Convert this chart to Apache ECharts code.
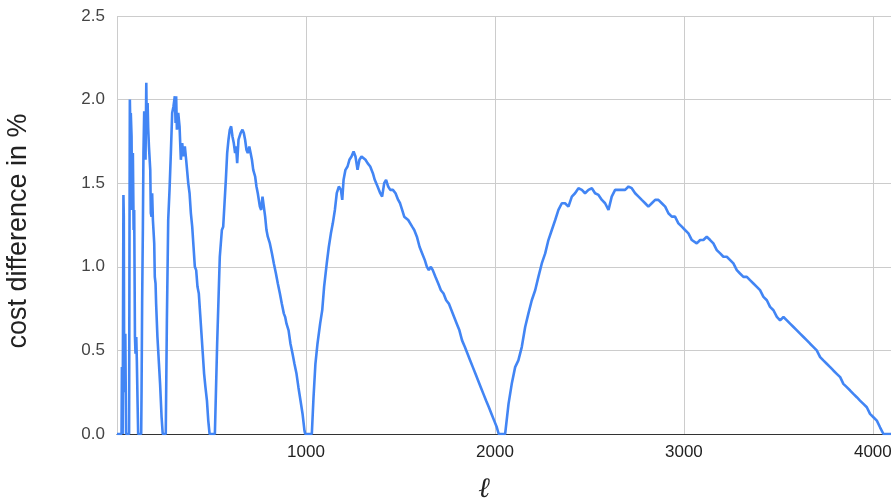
<!DOCTYPE html>
<html>
<head>
<meta charset="utf-8">
<script src="https://cdn.jsdelivr.net/npm/echarts@6/dist/echarts.min.js"></script>
<style>
html,body{margin:0;padding:0;background:#fff;}
#chart{width:891px;height:501px;}
</style>
</head>
<body>
<div id="chart"></div>
<script>
// x = ℓ, y = cost difference in %
const lobeStart = [[0,0],[24,0],[26,0.40],[28,0.10],[30,0],[32,0]];
const lobe32 = [[34,1.43],[36,1.30],[38,0.35],[40,0.55],[42,0.25],[44,0.60],[46,0.30],[48,0],[64,0]];
const lobe64 = [[66,1.10],[68,2.00],[71,1.80],[73,1.92],[77,1.78],[80,1.34],[84,1.68],[88,1.22],[91,1.34],[95,0.58],[98,0.48],[102,0.58],[105,0.44],[109,0.18],[112,0],[128,0]];
const lobe128 = [[130,0.26],[133,0.78],[137,1.24],[140,1.68],[144,1.93],[148,1.92],[151,1.64],[155,2.10],[158,1.80],[162,1.98],[165,1.83],[169,1.72],[176,1.58],[179,1.32],[183,1.30],[186,1.44],[190,1.28],[193,1.22],[197,1.14],[200,0.94],[204,0.90],[207,0.78],[214,0.58],[222,0.42],[228,0.30],[236,0.10],[242,0],[258,0]];
const lobe256 = [[260,0],[264,0.68],[271,1.28],[278,1.46],[285,1.68],[292,1.92],[299,1.96],[306,2.02],[310,1.86],[313,2.02],[317,1.82],[324,1.92],[331,1.84],[338,1.64],[345,1.74],[352,1.66],[359,1.72],[366,1.64],[377,1.50],[384,1.44],[391,1.32],[398,1.24],[405,1.12],[412,1.00],[419,0.98],[426,0.88],[433,0.84],[440,0.72],[447,0.60],[454,0.48],[461,0.36],[468,0.28],[476,0.20],[483,0.08],[490,0],[518,0]];
const lobe512 = [[520,0],[530,0.54],[537,0.80],[544,1.06],[555,1.22],[562,1.24],[569,1.38],[576,1.52],[583,1.68],[590,1.76],[597,1.82],[604,1.84],[611,1.78],[618,1.74],[625,1.68],[630,1.72],[636,1.62],[643,1.76],[654,1.80],[664,1.82],[671,1.80],[678,1.76],[685,1.70],[692,1.68],[700,1.72],[707,1.68],[714,1.64],[721,1.58],[731,1.54],[738,1.48],[745,1.44],[756,1.36],[763,1.34],[770,1.42],[777,1.36],[784,1.30],[791,1.22],[798,1.18],[809,1.14],[820,1.08],[830,1.02],[841,0.96],[851,0.90],[862,0.84],[872,0.78],[883,0.72],[890,0.70],[897,0.66],[908,0.62],[918,0.54],[929,0.48],[939,0.42],[950,0.36],[960,0.28],[971,0.20],[982,0.12],[992,0.02],[996,0],[1031,0]];
const lobe1024 = [[1040,0.22],[1050,0.42],[1061,0.54],[1075,0.66],[1086,0.74],[1096,0.88],[1110,1.02],[1121,1.12],[1132,1.20],[1142,1.26],[1153,1.34],[1163,1.44],[1174,1.48],[1185,1.46],[1192,1.40],[1199,1.52],[1209,1.58],[1220,1.60],[1230,1.64],[1241,1.66],[1252,1.69],[1262,1.66],[1273,1.58],[1283,1.64],[1294,1.66],[1304,1.66],[1315,1.64],[1326,1.62],[1340,1.60],[1354,1.56],[1364,1.52],[1379,1.48],[1393,1.44],[1403,1.42],[1414,1.50],[1424,1.52],[1435,1.48],[1446,1.46],[1460,1.46],[1474,1.44],[1488,1.40],[1498,1.38],[1509,1.34],[1520,1.30],[1530,1.30],[1541,1.28],[1551,1.27],[1562,1.24],[1573,1.22],[1587,1.18],[1601,1.12],[1615,1.08],[1629,1.04],[1640,1.00],[1650,0.98],[1661,1.00],[1671,0.98],[1685,0.94],[1700,0.90],[1714,0.86],[1728,0.84],[1742,0.80],[1756,0.78],[1770,0.74],[1784,0.70],[1798,0.66],[1812,0.62],[1826,0.56],[1841,0.52],[1855,0.48],[1869,0.44],[1883,0.40],[1897,0.36],[1911,0.32],[1925,0.28],[1939,0.24],[1953,0.20],[1968,0.16],[1982,0.12],[1996,0.08],[2010,0.04],[2020,0],[2054,0]];
const lobe2048 = [[2072,0.18],[2089,0.30],[2107,0.40],[2124,0.44],[2142,0.52],[2160,0.64],[2177,0.72],[2195,0.80],[2213,0.86],[2230,0.94],[2248,1.02],[2266,1.08],[2283,1.16],[2301,1.22],[2319,1.28],[2336,1.34],[2354,1.38],[2371,1.38],[2389,1.36],[2407,1.42],[2424,1.44],[2442,1.47],[2460,1.46],[2477,1.44],[2495,1.46],[2513,1.47],[2530,1.44],[2548,1.43],[2566,1.40],[2583,1.38],[2601,1.34],[2618,1.42],[2636,1.46],[2654,1.46],[2671,1.46],[2689,1.46],[2707,1.48],[2724,1.47],[2742,1.44],[2760,1.42],[2777,1.40],[2795,1.38],[2812,1.36],[2830,1.38],[2848,1.40],[2865,1.40],[2883,1.38],[2901,1.36],[2918,1.32],[2936,1.30],[2953,1.30],[2971,1.26],[2989,1.24],[3006,1.22],[3024,1.20],[3042,1.16],[3050,1.15],[3068,1.14],[3086,1.16],[3103,1.16],[3121,1.18],[3139,1.16],[3156,1.14],[3174,1.10],[3192,1.08],[3209,1.06],[3227,1.06],[3245,1.04],[3262,1.02],[3280,0.98],[3297,0.96],[3315,0.94],[3333,0.94],[3350,0.92],[3368,0.90],[3386,0.88],[3403,0.86],[3421,0.82],[3439,0.80],[3456,0.76],[3474,0.74],[3492,0.70],[3509,0.68],[3527,0.70],[3545,0.68],[3562,0.66],[3580,0.64],[3598,0.62],[3615,0.60],[3633,0.58],[3651,0.56],[3668,0.54],[3686,0.52],[3703,0.50],[3721,0.46],[3738,0.44],[3756,0.42],[3774,0.40],[3791,0.38],[3809,0.36],[3827,0.34],[3844,0.30],[3862,0.28],[3880,0.26],[3897,0.24],[3915,0.22],[3932,0.20],[3950,0.18],[3968,0.16],[3985,0.12],[4003,0.10],[4021,0.08],[4038,0.04],[4056,0],[4096,0]];

const xTicks = [1000, 2000, 3000, 4000];
const yTicks = [0, 0.5, 1.0, 1.5, 2.0, 2.5];

const seriesData = [].concat(lobeStart, lobe32, lobe64, lobe128, lobe256, lobe512, lobe1024, lobe2048);

const chart = echarts.init(document.getElementById('chart'), null, {renderer: 'canvas'});
chart.setOption({
  animation: false,
  backgroundColor: '#ffffff',
  grid: {left: 117, right: 0, top: 16, bottom: 67, containLabel: false, outerBoundsMode: 'none'},
  xAxis: {
    type: 'value', min: 0, max: 4096, interval: 1000,
    name: 'ℓ', nameLocation: 'middle', nameGap: 42,
    nameTextStyle: {fontFamily: 'DejaVu Serif', fontStyle: 'italic', fontSize: 28, color: '#222', padding: [0, 40, 0, 0]},
    axisLine: {show: true, lineStyle: {color: '#333', width: 1}},
    axisTick: {show: false},
    axisLabel: {
      fontFamily: 'Liberation Sans, Arial', fontSize: 17, color: '#222', margin: 10,
      formatter: v => xTicks.indexOf(v) >= 0 ? String(v) : ''
    },
    splitLine: {show: true, lineStyle: {color: '#cccccc', width: 1}}
  },
  yAxis: {
    type: 'value', min: 0, max: 2.5, interval: 0.5,
    name: 'cost difference in %', nameLocation: 'middle', nameGap: 85, nameRotate: 90,
    nameTextStyle: {fontFamily: 'Liberation Sans, Arial', fontSize: 27, color: '#222', padding: [0, 12, 0, 0]},
    axisLine: {show: false},
    axisTick: {show: false},
    axisLabel: {
      fontFamily: 'Liberation Sans, Arial', fontSize: 17, color: '#444', margin: 12,
      formatter: v => yTicks.indexOf(v) >= 0 ? v.toFixed(1) : ''
    },
    splitLine: {show: true, lineStyle: {color: '#cccccc', width: 1}}
  },
  series: [{
    type: 'line',
    data: seriesData,
    showSymbol: false,
    symbol: 'none',
    lineStyle: {color: '#4285f4', width: 2.6},
    z: 3
  }]
});
</script>
</body>
</html>
